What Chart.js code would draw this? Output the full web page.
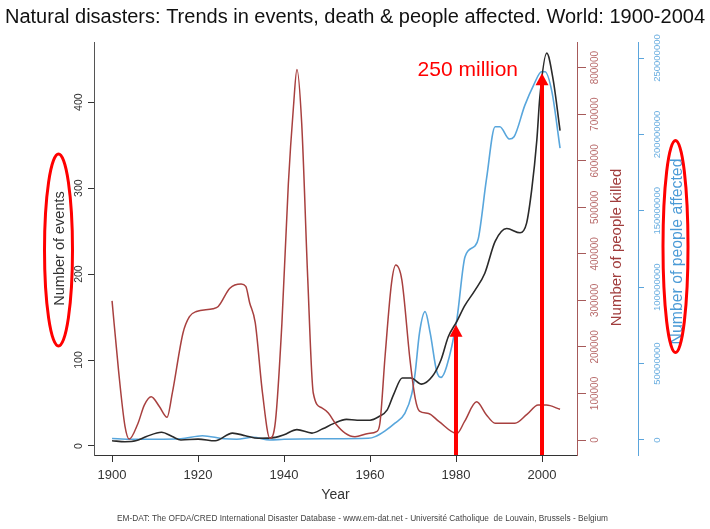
<!DOCTYPE html>
<html><head><meta charset="utf-8">
<script src="https://cdn.jsdelivr.net/npm/chart.js@4.4.1/dist/chart.umd.min.js"></script>
<style>html,body{margin:0;padding:0;background:#fff;}#wrap{width:710px;height:529px;}</style>
</head><body><div id="wrap"><canvas id="c" width="710" height="529"></canvas></div>
<script>
// ---- data ----
const eventYears  = [1900,1903,1905.5,1908,1911.5,1914,1916,1920,1924,1928,1931,1934,1938,1940,1943,1946.5,1949,1951.5,1954.5,1957,1960,1962,1964,1965.5,1967.5,1969.5,1972,1974.5,1976.5,1978.2,1980.2,1982,1984.4,1986.7,1989.1,1991.8,1994.9,1996.4,1997.6,1998.8,1999.5,2001.1,2002.6,2004.2];
const eventCounts = [6,5,6,11,16,11,7,8,6,15,12,9,10,13,19,15,20,26,31,30,30,34,42,60,79,79,72,81,100,127,145,163,181,201,238,253,248,259,298,356,406,457,426,367];

const killedYears  = [1900,1901.5,1903,1904,1906,1907.5,1909.1,1911,1912.8,1914,1916.5,1918,1919.6,1923.5,1924.7,1927.4,1930,1931.1,1932,1933.3,1935,1936.7,1938,1939.5,1941,1942.2,1943,1944.1,1945.5,1946.8,1948.8,1950.3,1952,1954.2,1956.5,1959.6,1961.5,1962.3,1963.5,1965,1966,1967.4,1969.3,1970.5,1971.5,1973.6,1976,1980.2,1982,1984.8,1987,1989.1,1993.7,1996.5,1999.1,2001,2004.2];
const killedCounts = [299000,150000,30000,2000,35000,75000,93000,72000,49000,100000,230000,265000,276000,282000,287000,326000,335000,330000,295000,252000,100000,4000,40000,250000,550000,717000,796000,682000,350000,101000,69000,58000,35000,15000,7000,14000,18000,36000,180000,337000,376000,344000,172000,90000,62000,57000,40000,14000,40000,82000,55000,36000,36000,55000,75000,75000,66000];

const affectedYears  = [1900,1904,1910,1916,1921,1926,1929,1932.8,1936.7,1940,1950,1959.6,1961.2,1963.5,1965.8,1968.1,1969.7,1970.5,1971.5,1972.8,1974,1975.5,1976.5,1977.8,1980.2,1982.1,1984.4,1985.2,1987.1,1989.1,1990.2,1992.4,1993.5,1996,1998,1999.9,2000.7,2002.3,2004.2];
const affectedCounts = [1000000,500000,500000,800000,2800000,800000,500000,1800000,0,500000,800000,1100000,2200000,6000000,11000000,17500000,30000000,44000000,70000000,84000000,70000000,45000000,41000000,48000000,79000000,120000000,127000000,132000000,171000000,205000000,205000000,197000000,198500000,219000000,232000000,241000000,241000000,228000000,191000000];

const yearTicks     = [1900,1920,1940,1960,1980,2000];
const eventTicks    = [0,100,200,300,400];
const killedTicks   = [0,100000,200000,300000,400000,500000,600000,700000,800000];
const affectedTicks = [0,50000000,100000000,150000000,200000000,250000000];

// annotations: arrows at these years, pointing to these values on these axes
const arrowYears  = [1980, 2000];
const arrowValues = [141, 240000000];
const arrowAxes   = ['yEvents', 'yAffected'];
const calloutText = '250 million';
const footerText  = 'EM-DAT: The OFDA/CRED International Disaster Database - www.em-dat.net - Université Catholique  de Louvain, Brussels - Belgium';

const FONT = "'Liberation Sans', Arial, Helvetica, sans-serif";
Chart.defaults.font.family = FONT;

const pts = (xs, ys) => xs.map((x, i) => ({x, y: ys[i]}));
const setTicks = arr => (s) => { s.ticks = arr.map(v => ({value: v})); };

function rotText(ctx, text, x, y, font, color) {
  ctx.save();
  ctx.translate(x, y);
  ctx.rotate(-Math.PI / 2);
  ctx.font = font; ctx.fillStyle = color;
  ctx.textAlign = 'center'; ctx.textBaseline = 'middle';
  ctx.fillText(text, 0, 0);
  ctx.restore();
}

const annot = {
  id: 'annot',
  afterDraw(chart) {
    const {ctx, chartArea, scales} = chart;
    const cy = (chartArea.top + chartArea.bottom) / 2;
    const k = scales.yKilled, a = scales.yAffected, e = scales.yEvents, xs = scales.x;
    rotText(ctx, 'Number of people killed', k.left + 40, cy - 1, '15px ' + FONT, '#a03c3c');
    rotText(ctx, 'Number of people affected', a.left + 40, cy + 3, '15.8px ' + FONT, '#4a9ad6');

    ctx.save();
    ctx.strokeStyle = '#ff0000'; ctx.lineWidth = 3;
    ctx.beginPath(); ctx.ellipse(e.left + 58.5, cy + 1.5, 14, 96, 0, 0, Math.PI * 2); ctx.stroke();
    ctx.beginPath(); ctx.ellipse(a.left + 37.5, cy - 2, 12.5, 106, 0, 0, Math.PI * 2); ctx.stroke();

    ctx.fillStyle = '#ff0000';
    let lastX = 0, lastTip = 0;
    arrowYears.forEach((yr, i) => {
      const x = xs.getPixelForValue(yr);
      const tip = scales[arrowAxes[i]].getPixelForValue(arrowValues[i]);
      ctx.lineWidth = 4;
      ctx.beginPath(); ctx.moveTo(x, chartArea.bottom); ctx.lineTo(x, tip + 10); ctx.stroke();
      ctx.beginPath(); ctx.moveTo(x, tip); ctx.lineTo(x - 6.5, tip + 12); ctx.lineTo(x + 6.5, tip + 12); ctx.closePath(); ctx.fill();
      lastX = x; lastTip = tip;
    });
    ctx.font = '21px ' + FONT; ctx.textAlign = 'right'; ctx.textBaseline = 'middle';
    ctx.fillText(calloutText, lastX - 24, lastTip - 3);

    ctx.font = '8.3px ' + FONT; ctx.fillStyle = '#444'; ctx.textAlign = 'center';
    ctx.fillText(footerText, (xs.left + xs.right) / 2 + 27, chart.height - 10.5);
    ctx.restore();
  }
};

new Chart(document.getElementById('c'), {
  type: 'line',
  data: {
    datasets: [
      {label: 'Number of people killed', data: pts(killedYears, killedCounts), yAxisID: 'yKilled',
       borderColor: '#a8403f', borderWidth: 1.5, pointRadius: 0, cubicInterpolationMode: 'monotone', fill: false},
      {label: 'Number of events', data: pts(eventYears, eventCounts), yAxisID: 'yEvents',
       borderColor: '#2a2a2a', borderWidth: 1.6, pointRadius: 0, cubicInterpolationMode: 'monotone', fill: false},
      {label: 'Number of people affected', data: pts(affectedYears, affectedCounts), yAxisID: 'yAffected',
       borderColor: '#58a6dc', borderWidth: 1.6, pointRadius: 0, cubicInterpolationMode: 'monotone', fill: false}
    ]
  },
  options: {
    responsive: false, animation: false, devicePixelRatio: 1,
    layout: {padding: 0},
    plugins: {
      legend: {display: false}, tooltip: {enabled: false},
      title: {display: true, text: 'Natural disasters: Trends in events, death & people affected. World: 1900-2004',
              font: {size: 20, weight: 'normal'}, color: '#111', padding: {top: 5, bottom: 13}}
    },
    scales: {
      x: {type: 'linear', position: 'bottom', min: 1895.8, max: 2008.14,
          afterBuildTicks: setTicks(yearTicks),
          afterFit: s => { s.height = 74; },
          ticks: {callback: v => String(v), font: {size: 13}, color: '#333', padding: 6, maxRotation: 0, autoSkip: false},
          grid: {drawOnChartArea: false, tickLength: 7, color: '#333'},
          border: {color: '#333', width: 1},
          title: {display: true, text: 'Year', font: {size: 14}, color: '#333', padding: {top: 0, bottom: 25.6}}},
      yEvents: {type: 'linear', position: 'left', min: -10.5, max: 470,
          afterBuildTicks: setTicks(eventTicks),
          afterFit: s => { s.width = 94; },
          ticks: {callback: v => String(v), minRotation: 90, maxRotation: 90, crossAlign: 'center', padding: 0, font: {size: 10.5}, color: '#333', autoSkip: false},
          grid: {drawOnChartArea: false, tickLength: 6, color: '#333'},
          border: {color: '#555', width: 1},
          title: {display: true, text: 'Number of events', font: {size: 14.5}, color: '#333', padding: {top: 51.3, bottom: 0}}},
      yKilled: {type: 'linear', position: 'right', min: -32230, max: 855178,
          afterBuildTicks: setTicks(killedTicks),
          afterFit: s => { s.width = 61; },
          ticks: {callback: v => String(v), minRotation: 90, maxRotation: 90, crossAlign: 'center', padding: -7.7, font: {size: 10}, color: '#b86b6b', autoSkip: false},
          grid: {drawOnChartArea: false, tickLength: 9, color: '#a65a5a'},
          border: {color: '#a65a5a', width: 1}},
      yAffected: {type: 'linear', position: 'right', min: -9820000, max: 260500000,
          afterBuildTicks: setTicks(affectedTicks),
          afterFit: s => { s.width = 72; },
          ticks: {callback: v => String(v), minRotation: 90, maxRotation: 90, crossAlign: 'center', padding: -10.75, font: {size: 9.5}, color: '#6aaee0', autoSkip: false},
          grid: {drawOnChartArea: false, tickLength: 6, color: '#5ba5dc'},
          border: {color: '#5ba5dc', width: 1}}
    }
  },
  plugins: [annot]
});
</script></body></html>
